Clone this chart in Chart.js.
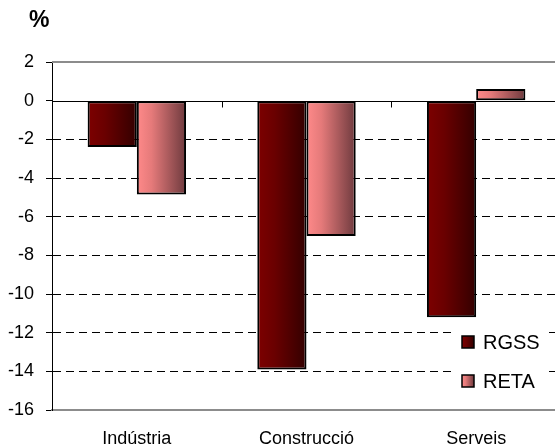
<!DOCTYPE html>
<html>
<head>
<meta charset="utf-8">
<script src="https://cdn.jsdelivr.net/npm/chart.js@4/dist/chart.umd.min.js"></script>
<style>
  html, body { margin: 0; padding: 0; background: #fff; overflow: hidden; width: 555px; height: 448px; }
  canvas { display: block; }
</style>
</head>
<body>
<canvas id="c" width="563" height="448"></canvas>
<script>
const categories = ['Indústria', 'Construcció', 'Serveis'];
const rgssValues = [-2.4, -13.9, -11.2];
const retaValues = [-4.85, -7.0, 0.6];
const seriesNames = ['RGSS', 'RETA'];
const yTicks = [2, 0, -2, -4, -6, -8, -10, -12, -14, -16];
const unitLabel = '%';

const CAT_PCT = 0.58;
const FONT = "'Liberation Sans', Arial, sans-serif";

const gradStops = [
  [[0, '#7d0000'], [0.35, '#6a0000'], [1, '#330000']],
  [[0, '#ff8a8a'], [0.3, '#e57a7a'], [1, '#6e3a3e']]
];
function makeGrad(ctx, x0, x1, di) {
  const g = ctx.createLinearGradient(x0, 0, x1, 0);
  gradStops[di].forEach(s => g.addColorStop(s[0], s[1]));
  return g;
}
function barGradient(c) {
  const chart = c.chart;
  const xs = chart.scales.x;
  if (!chart.chartArea || !xs || c.dataIndex === undefined) return gradStops[c.datasetIndex || 0][0][1];
  const catW = xs.width / categories.length;
  const barW = catW * CAT_PCT / 2;
  const center = xs.getPixelForValue(c.dataIndex);
  const left = center - catW * CAT_PCT / 2 + c.datasetIndex * barW;
  return makeGrad(chart.ctx, left, left + barW, c.datasetIndex);
}

const decor = {
  id: 'decor',
  beforeDatasetsDraw(chart) {
    const ctx = chart.ctx, a = chart.chartArea, y = chart.scales.y, x = chart.scales.x;
    ctx.save();
    ctx.strokeStyle = '#8c8c8c'; ctx.lineWidth = 2;
    ctx.beginPath(); ctx.moveTo(a.left, y.getPixelForValue(2)); ctx.lineTo(a.right, y.getPixelForValue(2)); ctx.stroke();
    const y0 = Math.round(y.getPixelForValue(0)) + 0.5;
    ctx.strokeStyle = '#000'; ctx.lineWidth = 1;
    ctx.beginPath(); ctx.moveTo(a.left, y0); ctx.lineTo(a.right, y0); ctx.stroke();
    const catW = x.width / categories.length;
    for (let i = 1; i < categories.length; i++) {
      const tx = Math.round(x.getPixelForValue(i) - catW / 2) + 0.5;
      ctx.beginPath(); ctx.moveTo(tx, y0); ctx.lineTo(tx, y0 + 6); ctx.stroke();
    }
    ctx.restore();
  },
  afterDraw(chart) {
    const ctx = chart.ctx;
    ctx.save();
    ctx.fillStyle = '#000';
    ctx.font = 'bold 23px ' + FONT;
    ctx.textBaseline = 'middle';
    ctx.textAlign = 'left';
    ctx.fillText(unitLabel, 29, 21);
    ctx.fillStyle = '#fff';
    ctx.fillRect(454, 323, 95, 72);
    const rows = [342, 381];
    chart.data.datasets.forEach((ds, i) => {
      const ry = rows[i];
      ctx.fillStyle = makeGrad(ctx, 462, 474, i);
      ctx.fillRect(462, ry - 6, 12, 12);
      ctx.strokeStyle = '#000'; ctx.lineWidth = 1.5;
      ctx.strokeRect(462, ry - 6, 12, 12);
      ctx.fillStyle = '#000';
      ctx.font = '20px ' + FONT;
      ctx.textBaseline = 'middle';
      ctx.fillText(ds.label, 483, ry + 1);
    });
    ctx.restore();
  }
};

const barStyle = { backgroundColor: barGradient, borderColor: '#000', borderWidth: 2, borderSkipped: false };

new Chart(document.getElementById('c'), {
  type: 'bar',
  data: {
    labels: categories,
    datasets: [
      Object.assign({ label: seriesNames[0], data: rgssValues }, barStyle),
      Object.assign({ label: seriesNames[1], data: retaValues }, barStyle)
    ]
  },
  options: {
    responsive: false,
    animation: false,
    devicePixelRatio: 1,
    categoryPercentage: CAT_PCT,
    barPercentage: 1.0,
    layout: { padding: { top: 62, right: 2, left: 0, bottom: 0 } },
    plugins: { legend: { display: false }, tooltip: { enabled: false }, title: { display: false }, colors: { enabled: false } },
    scales: {
      x: {
        grid: { display: false, drawTicks: false },
        border: { display: true, color: '#8c8c8c', width: 2 },
        ticks: { color: '#000', font: { family: FONT, size: 18 }, padding: 18, maxRotation: 0 },
        afterFit(s) { s.height = 38; }
      },
      y: {
        min: -16, max: 2,
        afterBuildTicks(s) { s.ticks = yTicks.map(v => ({ value: v })); },
        grid: {
          color: c => (c.tick && (c.tick.value === 2 || c.tick.value === 0 || c.tick.value === -16)) ? 'rgba(0,0,0,0)' : '#000',
          lineWidth: 1,
          tickColor: '#000',
          tickLength: 6,
          tickBorderDash: [],
          drawTicks: true
        },
        border: { display: true, color: '#000', width: 1, dash: [8, 5] },
        ticks: { color: '#000', font: { family: FONT, size: 18 }, padding: 12 },
        afterFit(s) { s.width = 52; }
      }
    }
  },
  plugins: [decor]
});
</script>
</body>
</html>
